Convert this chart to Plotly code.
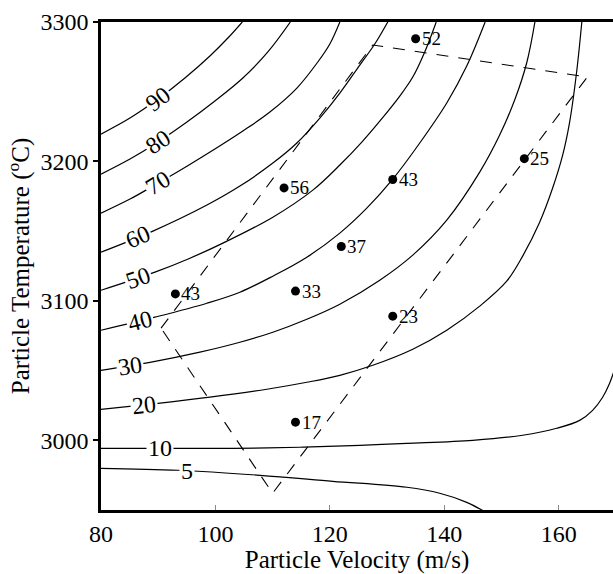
import plotly.graph_objects as go

# ---------------- data ----------------
# contour lines: particle velocity (m/s) vs particle temperature (C)
c90_v = [80, 85.07, 89.96, 94.67, 99.04, 102.18, 104.7]
c90_T = [3219.6, 3231.1, 3244.7, 3259.8, 3275.6, 3288.5, 3300]

c80_v = [80, 85.07, 89.96, 95.02, 99.91, 104.80, 109.17, 113.1]
c80_T = [3190.9, 3201.7, 3213.9, 3228.2, 3243.3, 3259.8, 3278.5, 3300]

c70_v = [80, 85.07, 89.96, 95.02, 99.91, 104.80, 109.52, 114.24, 117.90, 120.0, 121.75]
c70_T = [3162.9, 3173.0, 3184.4, 3196.6, 3208.9, 3221.8, 3235.4, 3252.6, 3271.3, 3284.2, 3300]

c60_v = [80, 89.08, 98.52, 104.28, 110.04, 114.24, 118.25, 121.75, 125.24, 127.86, 130.13]
c60_T = [3134.9, 3150.0, 3168.7, 3182.3, 3198.8, 3213.2, 3231.1, 3249.0, 3269.1, 3284.2, 3300]

c50_v = [80, 89.43, 95.55, 101.31, 110.04, 117.03, 121.75, 125.59, 128.73, 132.23, 134.50, 136.59, 138.6]
c50_T = [3107.6, 3120.6, 3130.6, 3141.4, 3160.0, 3179.4, 3197.4, 3213.9, 3228.9, 3246.9, 3260.5, 3278.5, 3300]

c40_v = [80, 89.43, 98.52, 104.28, 110.04, 115.98, 121.75, 126.46, 131.0, 135.72, 140.44, 143.93, 147.15]
c40_T = [3078.9, 3088.3, 3098.3, 3106.2, 3117.7, 3131.3, 3148.6, 3166.5, 3187.3, 3213.2, 3241.9, 3268.4, 3300]

c30_v = [80, 88.56, 97.29, 104.28, 110.04, 115.98, 121.75, 128.73, 134.50, 140.44, 146.20, 149.69, 152.31, 154.41, 155.85]
c30_T = [3050.2, 3055.9, 3063.2, 3070.3, 3077.5, 3086.8, 3097.6, 3114.8, 3132.8, 3157.9, 3192.3, 3218.9, 3244.0, 3270.6, 3300]

c20_v = [80, 89.96, 99.04, 109.0, 115.98, 121.75, 127.51, 134.50, 140.44, 146.20, 150.92, 153.71, 156.68, 158.95, 160.70, 161.92, 163.14, 164.05]
c20_T = [3022.2, 3026.5, 3030.9, 3036.6, 3041.6, 3046.6, 3053.8, 3065.3, 3078.9, 3096.2, 3114.1, 3132.1, 3156.4, 3180.9, 3204.5, 3228.2, 3264.1, 3300]

c10_v = [80, 92.93, 103.06, 114.76, 125.24, 133.45, 144.98, 153.71, 159.65, 163.67, 165.94, 167.69, 168.91, 169.96]
c10_T = [2994.2, 2994.2, 2994.2, 2995.0, 2996.4, 2997.8, 3000.0, 3003.6, 3008.6, 3014.3, 3021.5, 3030.9, 3040.9, 3053.1]

c5_v = [80, 93.45, 107.77, 120.52, 133.45, 139.21, 143.93, 147.6]
c5_T = [2979.9, 2978.5, 2974.9, 2970.6, 2966.3, 2962.0, 2955.5, 2947.6]

contour_levels = ["90", "80", "70", "60", "50", "40", "30", "20", "10", "5"]
contour_vs = [c90_v, c80_v, c70_v, c60_v, c50_v, c40_v, c30_v, c20_v, c10_v, c5_v]
contour_Ts = [c90_T, c80_T, c70_T, c60_T, c50_T, c40_T, c30_T, c20_T, c10_T, c5_T]

# contour label positions (on the lines) and text angles
label_v = [89.96, 89.96, 89.96, 86.46, 86.46, 86.81, 85.07, 87.51, 90.31, 95.02]
label_T = [3244.7, 3213.9, 3184.4, 3145.7, 3116.5, 3085.7, 3053.4, 3025.5, 2994.2, 2978.1]
label_angle = [-37, -34, -31, -23, -19, -14, -9, -6, 0, 0]

# measured points with their values
pt_v = [135, 112, 93, 131, 122, 114, 154, 131, 114]
pt_T = [3288, 3181, 3105, 3187, 3139, 3107, 3202, 3089, 3013]
pt_text = ["52", "56", "43", "43", "37", "33", "25", "23", "17"]

# dashed process window
win_v = [90.5, 127.5, 165.0, 110.0, 90.5]
win_T = [3080.4, 3283.5, 3260.5, 2962.0, 3080.4]

# axes
x_ticks = [80, 100, 120, 140, 160]
y_ticks = [3000, 3100, 3200, 3300]

FONT = "Liberation Serif, Times New Roman, serif"

fig = go.Figure()

for lv, vs, Ts in zip(contour_levels, contour_vs, contour_Ts):
    fig.add_trace(go.Scatter(x=vs, y=Ts, mode="lines",
                             line=dict(color="black", width=1.2, shape="spline", smoothing=1.0),
                             hoverinfo="skip", showlegend=False, name=lv))

fig.add_trace(go.Scatter(x=win_v, y=win_T, mode="lines",
                         line=dict(color="black", width=1.1, dash="12px,10px"),
                         hoverinfo="skip", showlegend=False))

fig.add_trace(go.Scatter(x=pt_v, y=pt_T, mode="markers",
                         marker=dict(color="black", size=9),
                         hoverinfo="skip", showlegend=False))

for t, v, T, a in zip(contour_levels, label_v, label_T, label_angle):
    fig.add_annotation(x=v, y=T, text=t, showarrow=False, textangle=a,
                       font=dict(family=FONT, size=24, color="black"),
                       bgcolor="white", borderpad=1, xanchor="center", yanchor="middle")

for t, v, T in zip(pt_text, pt_v, pt_T):
    fig.add_annotation(x=v, y=T, text=t, showarrow=False, xanchor="left", yanchor="middle",
                       xshift=4, font=dict(family=FONT, size=19, color="black"))

fig.update_layout(
    width=613, height=574,
    margin=dict(l=101, r=0, t=22, b=64),
    paper_bgcolor="white", plot_bgcolor="white",
    font=dict(family=FONT, color="black"),
)
fig.update_xaxes(range=[80, 169.5], tickvals=x_ticks, ticks="inside", ticklen=5,
                 tickcolor="#888", tickwidth=1, showgrid=False, zeroline=False,
                 showline=True, linecolor="black", linewidth=2.5, mirror=True,
                 tickfont=dict(family=FONT, size=24, color="black"),
                 title=dict(text="Particle Velocity (m/s)", standoff=8,
                            font=dict(family=FONT, size=25, color="black")))
fig.update_yaxes(range=[2950, 3300], tickvals=y_ticks, ticks="outside", ticklen=5,
                 tickcolor="black", tickwidth=1.5, showgrid=False, zeroline=False,
                 showline=True, linecolor="black", linewidth=2.5,
                 tickfont=dict(family=FONT, size=24, color="black"),
                 title=dict(text="Particle Temperature (<sup>o</sup>C)", standoff=4,
                            font=dict(family=FONT, size=25, color="black")))

fig.write_html("out.html")
